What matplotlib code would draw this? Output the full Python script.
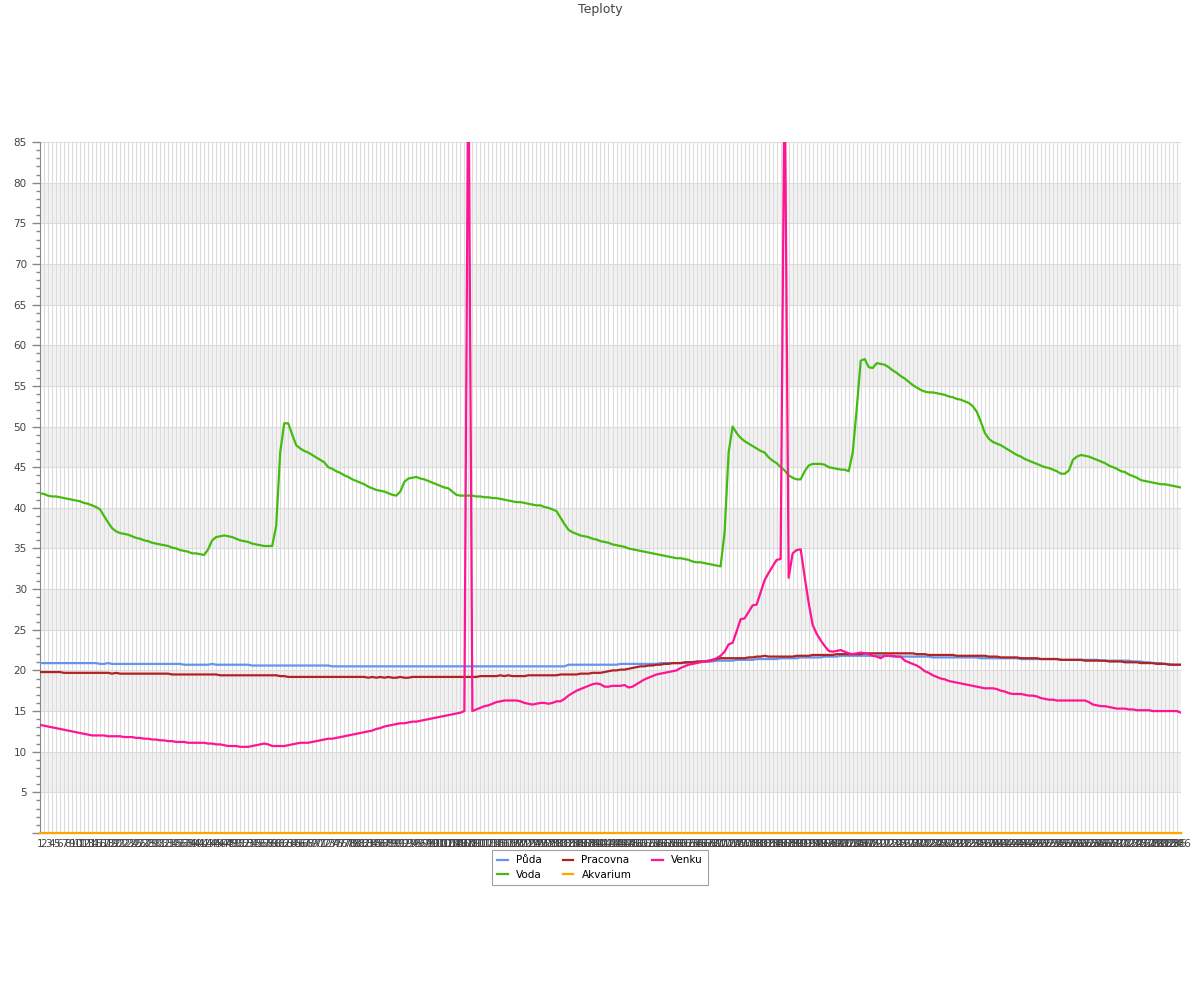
"""
Teploty - temperature log of five sensors, one sample per x position.
"""
import matplotlib
matplotlib.use("Agg")
import matplotlib.pyplot as plt
from matplotlib.ticker import MultipleLocator

# sample labels on the x axis (1..286)
labels = [str(n) for n in range(1, 287)]

puda = [
    20.9, 20.9, 20.9, 20.9, 20.9, 20.9, 20.9, 20.9, 20.9, 20.9,
    20.9, 20.9, 20.9, 20.9, 20.9, 20.8, 20.8, 20.9, 20.8, 20.8,
    20.8, 20.8, 20.8, 20.8, 20.8, 20.8, 20.8, 20.8, 20.8, 20.8,
    20.8, 20.8, 20.8, 20.8, 20.8, 20.8, 20.7, 20.7, 20.7, 20.7,
    20.7, 20.7, 20.7, 20.8, 20.7, 20.7, 20.7, 20.7, 20.7, 20.7,
    20.7, 20.7, 20.7, 20.6, 20.6, 20.6, 20.6, 20.6, 20.6, 20.6,
    20.6, 20.6, 20.6, 20.6, 20.6, 20.6, 20.6, 20.6, 20.6, 20.6,
    20.6, 20.6, 20.6, 20.5, 20.5, 20.5, 20.5, 20.5, 20.5, 20.5,
    20.5, 20.5, 20.5, 20.5, 20.5, 20.5, 20.5, 20.5, 20.5, 20.5,
    20.5, 20.5, 20.5, 20.5, 20.5, 20.5, 20.5, 20.5, 20.5, 20.5,
    20.5, 20.5, 20.5, 20.5, 20.5, 20.5, 20.5, 20.5, 20.5, 20.5,
    20.5, 20.5, 20.5, 20.5, 20.5, 20.5, 20.5, 20.5, 20.5, 20.5,
    20.5, 20.5, 20.5, 20.5, 20.5, 20.5, 20.5, 20.5, 20.5, 20.5,
    20.5, 20.5, 20.7, 20.7, 20.7, 20.7, 20.7, 20.7, 20.7, 20.7,
    20.7, 20.7, 20.7, 20.7, 20.7, 20.8, 20.8, 20.8, 20.8, 20.8,
    20.8, 20.8, 20.8, 20.8, 20.8, 20.9, 20.9, 20.9, 20.9, 20.9,
    20.9, 20.9, 21.0, 21.0, 21.0, 21.1, 21.1, 21.1, 21.1, 21.2,
    21.2, 21.2, 21.2, 21.2, 21.3, 21.3, 21.3, 21.3, 21.3, 21.4,
    21.4, 21.4, 21.4, 21.4, 21.4, 21.5, 21.5, 21.5, 21.5, 21.5,
    21.6, 21.6, 21.6, 21.6, 21.6, 21.6, 21.7, 21.7, 21.7, 21.7,
    21.8, 21.8, 21.8, 21.8, 21.8, 21.8, 21.8, 21.8, 21.8, 21.8,
    21.8, 21.8, 21.8, 21.7, 21.7, 21.7, 21.7, 21.7, 21.7, 21.7,
    21.7, 21.7, 21.7, 21.6, 21.6, 21.6, 21.6, 21.6, 21.6, 21.6,
    21.6, 21.6, 21.6, 21.6, 21.6, 21.5, 21.5, 21.5, 21.5, 21.5,
    21.5, 21.5, 21.5, 21.5, 21.5, 21.4, 21.4, 21.4, 21.4, 21.4,
    21.4, 21.4, 21.4, 21.4, 21.4, 21.3, 21.3, 21.3, 21.3, 21.3,
    21.3, 21.3, 21.3, 21.3, 21.3, 21.2, 21.2, 21.2, 21.2, 21.2,
    21.2, 21.2, 21.2, 21.1, 21.1, 21.1, 21.0, 21.0, 20.9, 20.9,
    20.9, 20.8, 20.8, 20.7, 20.7, 20.7,
]

voda = [
    41.8, 41.7, 41.5, 41.4, 41.4, 41.3, 41.2, 41.1, 41.0, 40.9,
    40.8, 40.6, 40.5, 40.3, 40.1, 39.8, 39.0, 38.2, 37.5, 37.1,
    36.9, 36.8, 36.7, 36.5, 36.3, 36.2, 36.0, 35.9, 35.7, 35.6,
    35.5, 35.4, 35.3, 35.1, 35.0, 34.8, 34.7, 34.6, 34.4, 34.4,
    34.3, 34.2, 34.9, 36.0, 36.4, 36.5, 36.6, 36.5, 36.4, 36.2,
    36.0, 35.9, 35.8, 35.6, 35.5, 35.4, 35.3, 35.3, 35.3, 37.8,
    46.8, 50.4, 50.4, 49.0, 47.7, 47.3, 47.0, 46.8, 46.5, 46.2,
    45.9, 45.6, 45.0, 44.8, 44.5, 44.3, 44.0, 43.8, 43.5, 43.3,
    43.1, 42.9, 42.6, 42.4, 42.2, 42.1, 42.0, 41.8, 41.6, 41.5,
    42.0, 43.2, 43.6, 43.7, 43.8, 43.6, 43.5, 43.3, 43.1, 42.9,
    42.7, 42.5, 42.4, 42.0, 41.6, 41.5, 41.5, 41.5, 41.5, 41.4,
    41.4, 41.3, 41.3, 41.2, 41.2, 41.1, 41.0, 40.9, 40.8, 40.7,
    40.7, 40.6, 40.5, 40.4, 40.3, 40.3, 40.1, 40.0, 39.8, 39.6,
    38.8, 38.0, 37.3, 37.0, 36.8, 36.6, 36.5, 36.4, 36.2, 36.1,
    35.9, 35.8, 35.7, 35.5, 35.4, 35.3, 35.2, 35.0, 34.9, 34.8,
    34.7, 34.6, 34.5, 34.4, 34.3, 34.2, 34.1, 34.0, 33.9, 33.8,
    33.8, 33.7, 33.6, 33.4, 33.3, 33.3, 33.2, 33.1, 33.0, 32.9,
    32.8, 37.0, 46.8, 50.0, 49.2, 48.6, 48.2, 47.9, 47.6, 47.3,
    47.0, 46.8, 46.2, 45.8, 45.5, 45.0, 44.6, 44.0, 43.7, 43.5,
    43.5, 44.5, 45.2, 45.4, 45.4, 45.4, 45.3, 45.0, 44.9, 44.8,
    44.7, 44.7, 44.5, 46.8, 52.2, 58.1, 58.3, 57.3, 57.2, 57.8,
    57.7, 57.6, 57.3, 56.9, 56.6, 56.2, 55.9, 55.5, 55.1, 54.8,
    54.5, 54.3, 54.2, 54.2, 54.1, 54.0, 53.9, 53.7, 53.6, 53.4,
    53.3, 53.1, 52.9, 52.5, 51.8, 50.6, 49.2, 48.5, 48.1, 47.9,
    47.7, 47.4, 47.1, 46.8, 46.5, 46.3, 46.0, 45.8, 45.6, 45.4,
    45.2, 45.0, 44.9, 44.7, 44.5, 44.2, 44.2, 44.6, 45.9, 46.3,
    46.5, 46.4, 46.3, 46.1, 45.9, 45.7, 45.5, 45.2, 45.0, 44.8,
    44.5, 44.4, 44.1, 43.9, 43.7, 43.4, 43.3, 43.2, 43.1, 43.0,
    42.9, 42.9, 42.8, 42.7, 42.6, 42.5,
]

pracovna = [
    19.8, 19.8, 19.8, 19.8, 19.8, 19.8, 19.7, 19.7, 19.7, 19.7,
    19.7, 19.7, 19.7, 19.7, 19.7, 19.7, 19.7, 19.7, 19.6, 19.7,
    19.6, 19.6, 19.6, 19.6, 19.6, 19.6, 19.6, 19.6, 19.6, 19.6,
    19.6, 19.6, 19.6, 19.5, 19.5, 19.5, 19.5, 19.5, 19.5, 19.5,
    19.5, 19.5, 19.5, 19.5, 19.5, 19.4, 19.4, 19.4, 19.4, 19.4,
    19.4, 19.4, 19.4, 19.4, 19.4, 19.4, 19.4, 19.4, 19.4, 19.4,
    19.3, 19.3, 19.2, 19.2, 19.2, 19.2, 19.2, 19.2, 19.2, 19.2,
    19.2, 19.2, 19.2, 19.2, 19.2, 19.2, 19.2, 19.2, 19.2, 19.2,
    19.2, 19.2, 19.1, 19.2, 19.1, 19.2, 19.1, 19.2, 19.1, 19.1,
    19.2, 19.1, 19.1, 19.2, 19.2, 19.2, 19.2, 19.2, 19.2, 19.2,
    19.2, 19.2, 19.2, 19.2, 19.2, 19.2, 19.2, 19.2, 19.2, 19.2,
    19.3, 19.3, 19.3, 19.3, 19.3, 19.4, 19.3, 19.4, 19.3, 19.3,
    19.3, 19.3, 19.4, 19.4, 19.4, 19.4, 19.4, 19.4, 19.4, 19.4,
    19.5, 19.5, 19.5, 19.5, 19.5, 19.6, 19.6, 19.6, 19.7, 19.7,
    19.7, 19.8, 19.9, 20.0, 20.0, 20.1, 20.1, 20.2, 20.3, 20.4,
    20.5, 20.5, 20.6, 20.6, 20.7, 20.7, 20.8, 20.8, 20.9, 20.9,
    20.9, 21.0, 21.0, 21.0, 21.1, 21.1, 21.1, 21.2, 21.3, 21.4,
    21.5, 21.5, 21.5, 21.5, 21.5, 21.5, 21.5, 21.6, 21.6, 21.7,
    21.7, 21.8, 21.7, 21.7, 21.7, 21.7, 21.7, 21.7, 21.7, 21.8,
    21.8, 21.8, 21.8, 21.9, 21.9, 21.9, 21.9, 21.9, 21.9, 22.0,
    22.0, 22.0, 22.0, 22.0, 22.0, 22.0, 22.1, 22.1, 22.1, 22.1,
    22.1, 22.1, 22.1, 22.1, 22.1, 22.1, 22.1, 22.1, 22.1, 22.0,
    22.0, 22.0, 21.9, 21.9, 21.9, 21.9, 21.9, 21.9, 21.9, 21.8,
    21.8, 21.8, 21.8, 21.8, 21.8, 21.8, 21.8, 21.7, 21.7, 21.7,
    21.6, 21.6, 21.6, 21.6, 21.6, 21.5, 21.5, 21.5, 21.5, 21.5,
    21.4, 21.4, 21.4, 21.4, 21.4, 21.3, 21.3, 21.3, 21.3, 21.3,
    21.3, 21.2, 21.2, 21.2, 21.2, 21.2, 21.2, 21.1, 21.1, 21.1,
    21.1, 21.0, 21.0, 21.0, 21.0, 20.9, 20.9, 20.9, 20.9, 20.8,
    20.8, 20.8, 20.7, 20.7, 20.7, 20.7,
]

# Akvarium sensor reads 0 for every sample
akvarium = [0.0] * 286

# two bogus readings (samples 108 and 187) shoot above the axis top
venku = [
    13.3, 13.2, 13.1, 13.0, 12.9, 12.8, 12.7, 12.6, 12.5, 12.4,
    12.3, 12.2, 12.1, 12.0, 12.0, 12.0, 12.0, 11.9, 11.9, 11.9,
    11.9, 11.8, 11.8, 11.8, 11.7, 11.7, 11.6, 11.6, 11.5, 11.5,
    11.4, 11.4, 11.3, 11.3, 11.2, 11.2, 11.2, 11.1, 11.1, 11.1,
    11.1, 11.1, 11.0, 11.0, 10.9, 10.9, 10.8, 10.7, 10.7, 10.7,
    10.6, 10.6, 10.6, 10.7, 10.8, 10.9, 11.0, 10.9, 10.7, 10.7,
    10.7, 10.7, 10.8, 10.9, 11.0, 11.1, 11.1, 11.1, 11.2, 11.3,
    11.4, 11.5, 11.6, 11.6, 11.7, 11.8, 11.9, 12.0, 12.1, 12.2,
    12.3, 12.4, 12.5, 12.6, 12.8, 12.9, 13.1, 13.2, 13.3, 13.4,
    13.5, 13.5, 13.6, 13.7, 13.7, 13.8, 13.9, 14.0, 14.1, 14.2,
    14.3, 14.4, 14.5, 14.6, 14.7, 14.8, 15.0, 98.0, 15.0, 15.2,
    15.4, 15.6, 15.7, 15.9, 16.1, 16.2, 16.3, 16.3, 16.3, 16.3,
    16.2, 16.0, 15.9, 15.8, 15.9, 16.0, 16.0, 15.9, 16.0, 16.2,
    16.2, 16.5, 16.9, 17.2, 17.5, 17.7, 17.9, 18.1, 18.3, 18.4,
    18.3, 18.0, 18.0, 18.1, 18.1, 18.1, 18.2, 17.9, 18.0, 18.3,
    18.6, 18.9, 19.1, 19.3, 19.5, 19.6, 19.7, 19.8, 19.9, 20.0,
    20.3, 20.5, 20.7, 20.8, 20.9, 21.0, 21.1, 21.1, 21.3, 21.5,
    21.8, 22.3, 23.2, 23.4, 24.8, 26.3, 26.4, 27.2, 28.0, 28.1,
    29.6, 31.1, 32.0, 32.8, 33.6, 33.7, 95.0, 31.4, 34.4, 34.8,
    34.9, 31.5, 28.3, 25.6, 24.5, 23.7, 23.0, 22.4, 22.3, 22.4,
    22.5, 22.3, 22.1, 22.0, 22.1, 22.2, 22.1, 22.0, 21.8, 21.7,
    21.5, 21.8, 21.8, 21.8, 21.7, 21.7, 21.2, 21.0, 20.8, 20.6,
    20.3, 19.9, 19.7, 19.4, 19.2, 19.0, 18.9, 18.7, 18.6, 18.5,
    18.4, 18.3, 18.2, 18.1, 18.0, 17.9, 17.8, 17.8, 17.8, 17.7,
    17.5, 17.4, 17.2, 17.1, 17.1, 17.1, 17.0, 16.9, 16.9, 16.8,
    16.6, 16.5, 16.4, 16.4, 16.3, 16.3, 16.3, 16.3, 16.3, 16.3,
    16.3, 16.3, 16.1, 15.8, 15.7, 15.6, 15.6, 15.5, 15.4, 15.3,
    15.3, 15.3, 15.2, 15.2, 15.1, 15.1, 15.1, 15.1, 15.0, 15.0,
    15.0, 15.0, 15.0, 15.0, 15.0, 14.8,
]

series = [
    ("Půda", puda, "#6495ed"),
    ("Voda", voda, "#44bb0e"),
    ("Pracovna", pracovna, "#b22222"),
    ("Akvarium", akvarium, "#ffa500"),
    ("Venku", venku, "#ff1493"),
]

fig = plt.figure(figsize=(12, 10), dpi=100)
ax = fig.add_axes([40 / 1200, 167 / 1000, 1141 / 1200, 691 / 1000])

x = list(range(len(labels)))

# alternating grey bands and grid
for lo in range(5, 85, 10):
    ax.axhspan(lo, lo + 5, color="#f2f2f2", zorder=0, lw=0)
ax.set_xticks(x)
ax.set_xticklabels(labels, fontsize=7.5, color="#444444")
ax.tick_params(axis="x", length=0, pad=4)
ax.xaxis.grid(True, color="#dcdcdc", lw=0.8, zorder=0.5)
ax.yaxis.grid(True, color="#dcdcdc", lw=0.8, zorder=0.5)
ax.set_axisbelow(True)

for name, vals, col in series:
    # the flat zero line sits on the axis, so don't clip it in half
    ax.plot(x, vals, color=col, lw=1.6, label=name, zorder=3,
            clip_on=(name != "Akvarium"))

ax.set_xlim(0, len(labels) - 1)
ax.set_ylim(0, 85)
ax.yaxis.set_major_locator(MultipleLocator(5))
ax.yaxis.set_minor_locator(MultipleLocator(1))
ax.set_yticks(range(0, 90, 5))
ax.set_yticklabels([""] + [str(v) for v in range(5, 90, 5)], fontsize=7.5, color="#444444")
ax.tick_params(axis="y", which="major", length=6, color="#888888", width=1)
ax.tick_params(axis="y", which="minor", length=3, color="#888888", width=1)

for side in ("top", "right"):
    ax.spines[side].set_visible(False)
ax.spines["left"].set_color("#888888")
ax.spines["bottom"].set_color("#888888")

fig.text(0.5, 0.99, "Teploty", ha="center", va="center", fontsize=9, color="#444444")

leg = fig.legend(loc="upper center", bbox_to_anchor=(0.5, 0.155), ncol=3,
                 fontsize=7.5, frameon=True, fancybox=False, handlelength=1.0,
                 columnspacing=2.0, borderpad=0.5, labelspacing=0.4)
leg.get_frame().set_edgecolor("#888888")
leg.get_frame().set_linewidth(0.8)

fig.savefig("out.png", dpi=100)
